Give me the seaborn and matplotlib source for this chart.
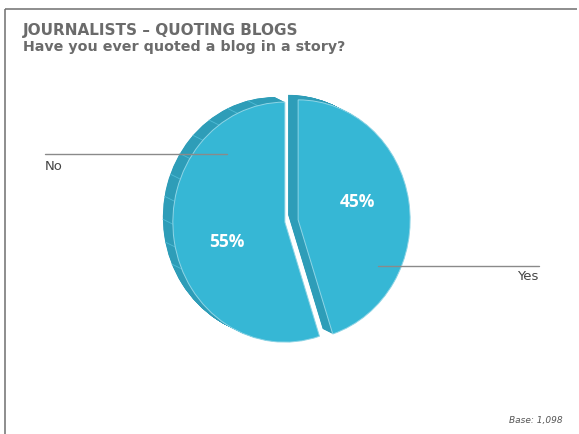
import numpy as np
import matplotlib
matplotlib.use("Agg")
import matplotlib.pyplot as plt
import seaborn as sns

# Survey answers
answers = ["Yes", "No"]
shares = [45, 55]
base_n = "1,098"
title = "JOURNALISTS \u2013 QUOTING BLOGS"
subtitle = "Have you ever quoted a blog in a story?"

sns.set_theme(style="white")
plt.rcParams["font.family"] = ["DejaVu Sans"]

FACE = "#36b7d5"
SIDE = "#2e9db8"
RIM = "#8fd5e6"

W, H = 579, 434
fig = plt.figure(figsize=(W / 100, H / 100), dpi=100, facecolor="white")

# pie axes: one data unit = rx pixels across, ry pixels down
cx, cy, rx, ry = 291.5, 221.0, 112.0, 120.0
span = 1.6
pw, ph = 2 * span * rx, 2 * span * ry
pie_ax = fig.add_axes([(cx - pw / 2) / W, (H - cy - ph / 2) / H, pw / W, ph / H])

explode = [0.06, 0.06]
depth_dx, depth_dy = -10 / rx, 5 / ry

# extruded side of the disc
steps = 28
for k in range(steps, 0, -1):
    f = k / steps
    pie_ax.pie(shares, explode=explode, startangle=90, counterclock=False,
               colors=[SIDE, SIDE], center=(depth_dx * f, depth_dy * f),
               wedgeprops=dict(linewidth=0))

# faint facet lines along the visible side of the "No" slice
mid_no = np.deg2rad(90 - 360 * shares[0] / 100 - 180 * shares[1] / 100)
ox, oy = explode[1] * np.cos(mid_no), explode[1] * np.sin(mid_no)
for a in np.deg2rad(np.arange(104, 205, 11)):
    x0, y0 = ox + np.cos(a), oy + np.sin(a)
    pie_ax.plot([x0, x0 + depth_dx], [y0, y0 + depth_dy], color="#4fbcd6",
                lw=0.6, zorder=2)

# top face
wedges, _, pcts = pie_ax.pie(
    shares, explode=explode, startangle=90, counterclock=False,
    colors=[FACE, FACE], autopct=lambda p: f"{p:.0f}%", pctdistance=0.54,
    wedgeprops=dict(linewidth=0.7, edgecolor=RIM),
    textprops=dict(color="white", fontsize=12.5, fontweight="bold",
                   family=["Open Sans", "DejaVu Sans"]))
for w in wedges:
    w.set_zorder(3)
# percentage labels sit a little off the slice bisectors on the tilted face
label_spots = [(357, 202), (227, 242)]
for t, (px, py) in zip(pcts, label_spots):
    t.set_zorder(4)
    t.set_position(((px - cx) / rx, (cy - py) / ry))

pie_ax.set_aspect("auto")
pie_ax.set_xlim(-span, span)
pie_ax.set_ylim(-span, span)
pie_ax.axis("off")

# overlay in pixel coordinates for frame, titles and leader lines
ov = fig.add_axes([0, 0, 1, 1], facecolor="none")
ov.set_xlim(0, W)
ov.set_ylim(H, 0)
ov.axis("off")

frame_c = "#6f6f6f"
ov.plot([4.5, 577], [8.5, 8.5], color=frame_c, lw=1.1, solid_capstyle="butt")
ov.plot([4.5, 4.5], [8.5, H], color=frame_c, lw=1.1, solid_capstyle="butt")

ov.text(23, 34.5, title, fontsize=11, fontweight="heavy", color="#6b6b6b",
        va="baseline", ha="left")
ov.text(23, 50.5, subtitle, fontsize=10.3, fontweight="bold", color="#6b6b6b",
        va="baseline", ha="left")

line_c = "#8a8a8a"
ov.plot([45, 227], [154, 154], color=line_c, lw=1.0)
ov.text(45, 167, answers[1], fontsize=9.5, color="#444444", va="center", ha="left")
ov.plot([378, 539], [265.5, 265.5], color=line_c, lw=1.0)
ov.text(538, 276.5, answers[0], fontsize=9.5, color="#444444", va="center", ha="right")

ov.text(563, 421, f"Base: {base_n}", fontsize=6.5, style="italic",
        color="#555555", va="center", ha="right")

fig.savefig("out.png", dpi=100, facecolor="white")
